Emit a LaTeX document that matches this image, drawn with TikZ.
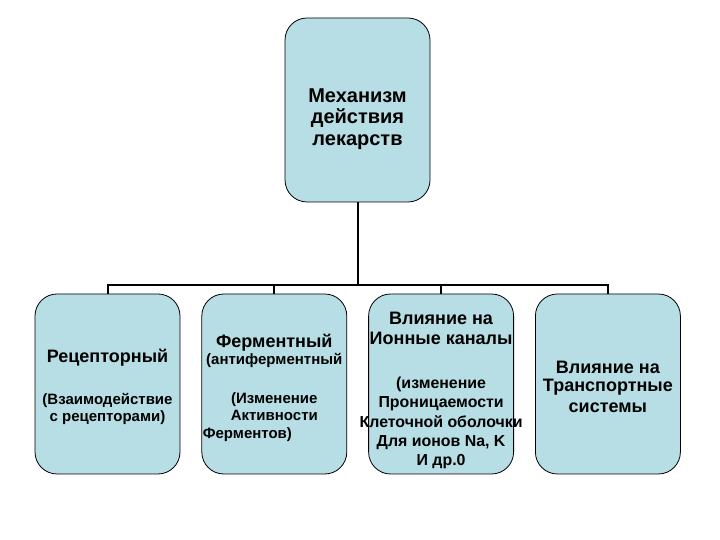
\documentclass[tikz,border=0pt]{standalone}
\usepackage{fontspec}
\setmainfont{Liberation Sans}
\usetikzlibrary{positioning}
\definecolor{boxfill}{RGB}{183,222,228}
\tikzset{
    % Boxes
    topbox/.style={
        rectangle,
        draw=black,
        line width=0.8pt,
        fill=boxfill,
        rounded corners=22pt,
        minimum width=145pt,
        minimum height=184pt
    },
    kindbox/.style={
        topbox,
        minimum height=180pt
    },
    % Texts
    boxtext/.style={
        inner sep=0pt,
        align=center,
        font=\bfseries\fontsize{18}{20}\selectfont
    },
    % Connectors
    link/.style={
        line width=2pt,
        draw=black
    }
}
\newcommand{\subtxt}{\fontsize{15}{20}\selectfont}
\newcommand{\iontxt}{\fontsize{15.9}{20}\selectfont}

\begin{document}
\begin{tikzpicture}[x=1pt, y=1pt, node distance=21pt]
    \useasboundingbox (0,0) rectangle (720,540);

    % Root
    \node[topbox] (mech) at (357.5,430) {};
    \node[boxtext, font=\bfseries\fontsize{20}{21.5}\selectfont] (mechtext)
        at ([yshift=-9pt]mech.center) {Механизм\\действия\\лекарств};

    % Kinds
    \node[kindbox] (recep) at (107.5,156) {};
    \node[kindbox, right=of recep] (ferm) {};
    \node[kindbox, right=of ferm] (ion) {};
    \node[kindbox, right=of ion] (trans) {};

    \node[boxtext] (receptext) at ([yshift=-3pt]recep.center) {Рецепторный\\[22pt]
        {\subtxt (Взаимодействие}\\[-3pt]{\subtxt с рецепторами)}};
    \node[boxtext] (fermtext) at ([yshift=-4pt]ferm.center) {Ферментный\\[-3pt]
        {\subtxt (антиферментный}\\[19pt]
        {\subtxt (Изменение}\\[-3pt]{\subtxt Активности}\\[-2pt]
        {\subtxt\makebox[145pt][l]{\hspace{1pt}Ферментов)}}};
    \node[boxtext] (iontext) at ([yshift=-6pt]ion.center) {Влияние на\\Ионные каналы\\[24pt]
        {\iontxt (изменение}\\[-1pt]
        {\iontxt Проницаемости}\\
        {\iontxt\makebox[0pt]{Клеточной оболочки}}\\[-1pt]
        {\iontxt Для ионов Na, K}\\[-1pt]
        {\iontxt И др.0}};
    \node[boxtext] (transtext) at ([yshift=-3pt]trans.center) {Влияние на\\[-2pt]Транспортные\\[1pt]системы};

    % Tree connectors
    \draw[link] (mech.south) |- ([yshift=9pt]recep.north) -- (recep.north);
    \draw[link] (mech.south) |- ([yshift=9pt]ferm.north) -- (ferm.north);
    \draw[link] (mech.south) |- ([yshift=9pt]ion.north) -- (ion.north);
    \draw[link] (mech.south) |- ([yshift=9pt]trans.north) -- (trans.north);

\end{tikzpicture}
\end{document}
